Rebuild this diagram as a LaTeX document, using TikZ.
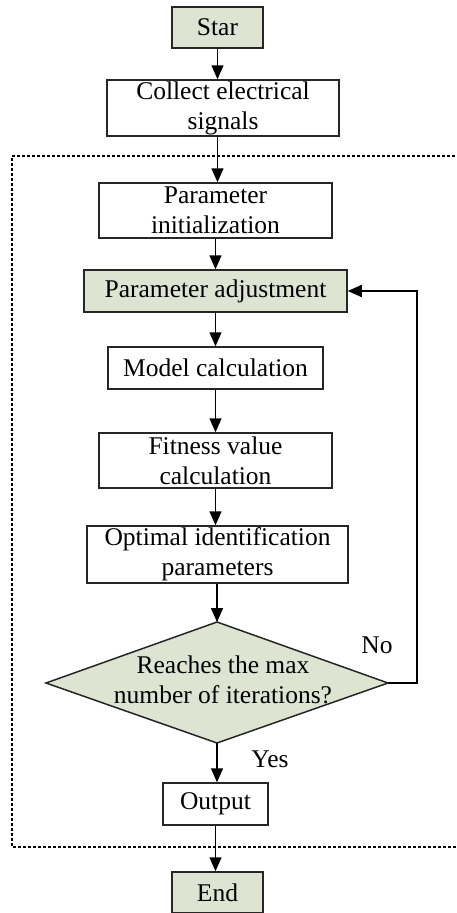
\documentclass[tikz,border=0pt]{standalone}
\usepackage{fontspec}
\setmainfont{Liberation Serif}
\usetikzlibrary{arrows.meta}
\definecolor{sage}{RGB}{222,228,210}
\begin{document}
\begin{tikzpicture}[x=1pt,y=-1pt,
  box/.style={draw=black!85,line width=1.5pt,inner sep=0pt,align=center,
    font=\fontsize{25.5}{30}\selectfont},
  fillbox/.style={box,fill=sage},
  arr/.style={line width=1.5pt,-{Triangle[length=14pt,width=12pt]}},
  lab/.style={font=\fontsize{25.5}{30}\selectfont,inner sep=0pt}]
\clip (0,0) rectangle (457,913);
\fill[white] (0,0) rectangle (457,913);
% dashed frame
\draw[line width=1.2pt,dash pattern=on 3pt off 2pt] (470,156) -- (12,156) -- (12,847) -- (470,847);
% nodes
\node[fillbox,minimum width=91,minimum height=41] (star) at (217.5,27.5) {Star};
\node[box,minimum width=232,minimum height=56] (collect) at (223,108) {Collect electrical\\signals};
\node[box,minimum width=233,minimum height=55] (init) at (215.5,210.5) {Parameter\\initialization};
\node[fillbox,minimum width=263,minimum height=42] (adjust) at (215.5,291) {Parameter adjustment};
\node[box,minimum width=215,minimum height=42] (model) at (215.5,368) {Model calculation};
\node[box,minimum width=233,minimum height=55] (fit) at (215.5,460.5) {Fitness value\\calculation};
\node[box,minimum width=261,minimum height=57] (opt) at (217.5,554.5) {Optimal identification\\parameters};
% diamond
\coordinate (dtop) at (217,622);
\coordinate (dright) at (388,683);
\coordinate (dbot) at (217,743);
\coordinate (dleft) at (46,683);
\draw[line width=1.5pt,fill=sage,draw=black!85] (dtop) -- (dright) -- (dbot) -- (dleft) -- cycle;
\node[lab,align=center] (dtext) at (223,680) {Reaches the max\\number of iterations?};
\node[box,minimum width=105,minimum height=42] (out) at (215.5,804) {Output};
\node[fillbox,minimum width=91,minimum height=41] (end) at (217.5,892.5) {End};
\coordinate (loopA) at (417,683);
\coordinate (loopB) at (417,291);
% labels
\node[lab] (no) at (377,645) {No};
\node[lab] (yes) at (270,759) {Yes};
% connectors
\draw[arr] (star.south) -- (star.south |- collect.north);
\draw[arr] (star.south |- collect.south) -- (star.south |- init.north);
\draw[arr] (init.south) -- (adjust.north);
\draw[arr] (adjust.south) -- (adjust.south |- model.north);
\draw[arr] (model.south) -- (fit.north);
\draw[arr] (fit.south) -- (fit.south |- opt.north);
\draw[arr] (dtop |- opt.south) -- (dtop);
\draw[arr] (dbot) -- (dbot |- out.north);
\draw[arr] (out.south) -- (out.south |- end.north);
\draw[arr] (dright) -- (loopA) -- (loopB) -- (adjust.east);
\end{tikzpicture}
\end{document}
